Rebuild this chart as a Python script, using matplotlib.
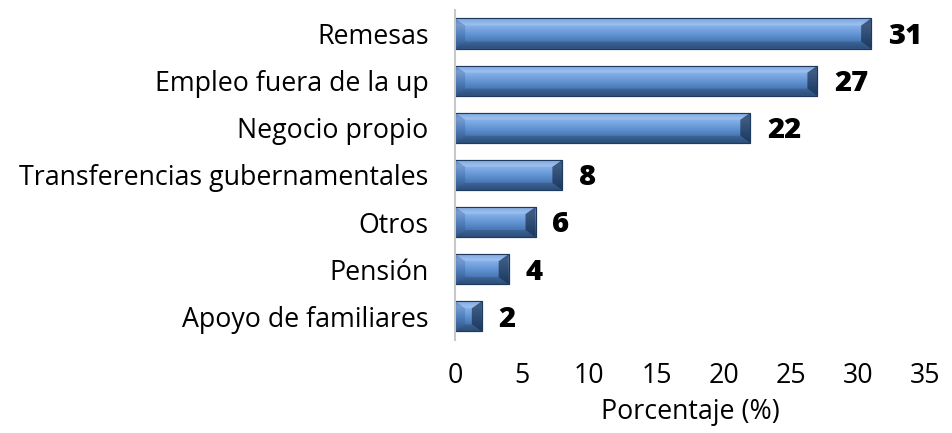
import numpy as np
import matplotlib.pyplot as plt
from matplotlib.patches import Polygon
from matplotlib.colors import LinearSegmentedColormap

categories = ["Remesas", "Empleo fuera de la up", "Negocio propio",
              "Transferencias gubernamentales", "Otros", "Pensión",
              "Apoyo de familiares"]
values = [31, 27, 22, 8, 6, 4, 2]
xticks = [0, 5, 10, 15, 20, 25, 30, 35]

plt.rcParams['font.family'] = ['Open Sans', 'DejaVu Sans']

fig = plt.figure(figsize=(9.53, 4.33), dpi=100)
ax = fig.add_axes([0.4775, 0.215, 0.493, 0.762])

ypos = np.arange(len(categories))
bar_h = 0.64
bars = ax.barh(ypos, values, height=bar_h, color="#4f81bd",
               edgecolor="#1f3a5f", linewidth=0.8, zorder=2)

ax.set_xlim(0, 35)
ax.set_ylim(len(categories) - 0.5, -0.5)

# vertical gradient inside each bar
grad_cmap = LinearSegmentedColormap.from_list(
    "bev", ["#6a98d8", "#8db6ec", "#72a1de", "#5a8bcb", "#4673ab", "#355a8a"])
grad = np.linspace(0, 1, 64).reshape(-1, 1)

# bevel depth in data units (about 10 px wide, 7 px high)
bx = 0.75
by = 0.15
for b in bars:
    x0, y0 = b.get_x(), b.get_y()
    w, h = b.get_width(), b.get_height()
    x1, y1 = x0 + w, y0 + h
    im = ax.imshow(grad, cmap=grad_cmap, aspect="auto",
                   extent=[x0, x1, y1, y0], zorder=2.1)
    im.set_clip_path(b)
    d = min(bx, w / 2)
    # top bevel (lighter)
    ax.add_patch(Polygon([[x0, y0], [x1, y0], [x1 - d, y0 + by], [x0 + d, y0 + by]],
                         closed=True, facecolor="white", alpha=0.12,
                         edgecolor="none", zorder=2.2))
    # bottom bevel (darker)
    ax.add_patch(Polygon([[x0, y1], [x1, y1], [x1 - d, y1 - by], [x0 + d, y1 - by]],
                         closed=True, facecolor="#0d1f38", alpha=0.2,
                         edgecolor="none", zorder=2.2))
    # left bevel
    ax.add_patch(Polygon([[x0, y0], [x0 + d, y0 + by], [x0 + d, y1 - by], [x0, y1]],
                         closed=True, facecolor="#1a3a66", alpha=0.2,
                         edgecolor="none", zorder=2.2))
    # right bevel
    ax.add_patch(Polygon([[x1, y0], [x1 - d, y0 + by], [x1 - d, y1 - by], [x1, y1]],
                         closed=True, facecolor="#0d1f38", alpha=0.6,
                         edgecolor="none", zorder=2.2))
    # outline again on top
    ax.add_patch(Polygon([[x0, y0], [x1, y0], [x1, y1], [x0, y1]], closed=True,
                         fill=False, edgecolor="#1f3a5f", linewidth=0.8, zorder=2.3))
    ax.text(x1 + 1.25, b.get_y() + h / 2 + 0.06, str(int(w)), va="center", ha="left",
            fontsize=21, fontweight="heavy", color="black")

ax.set_yticks(ypos)
ax.set_yticklabels(categories, fontsize=19.3)
ax.set_xticks(xticks)
ax.set_xticklabels([str(t) for t in xticks], fontsize=19.3)
ax.tick_params(axis="both", length=0)
ax.tick_params(axis="y", pad=19)
ax.tick_params(axis="x", pad=16)
ax.set_xlabel("Porcentaje (%)", fontsize=19.3, labelpad=6)

for s in ["top", "right", "bottom"]:
    ax.spines[s].set_visible(False)
ax.spines["left"].set_color("#c8c8c8")
ax.spines["left"].set_linewidth(1.5)

fig.savefig("out.png", dpi=100)
